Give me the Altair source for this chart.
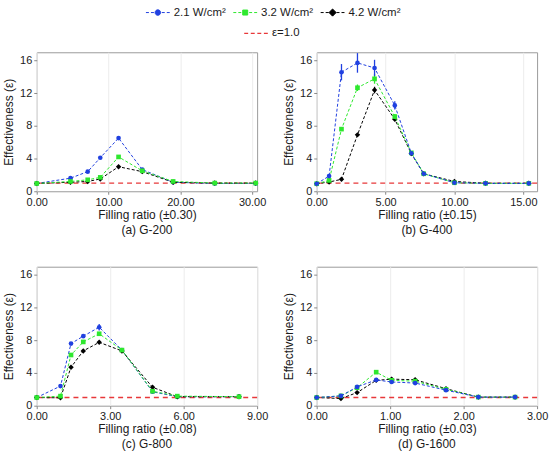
import altair as alt
import pandas as pd

# ---- series definitions ----
SERIES = ["2.1 W/cm²", "3.2 W/cm²", "4.2 W/cm²"]
COLORS = ["#2040e0", "#2ee82e", "#000000"]
EPS_LABEL = "ε=1.0"
EPS_VALUE = [1.0]

# ---- (a) G-200 ----
a_x = [0.0, 4.7, 7.1, 8.85, 11.4, 14.7, 19.0, 24.8, 30.5]
a_blue = [0.95, 1.6, 2.4, 4.1, 6.5, 2.65, 1.1, 0.95, 0.95]
a_green = [0.95, 1.2, 1.4, 1.7, 4.2, 2.5, 1.2, 1.0, 1.0]
a_black = [0.95, 1.1, 1.2, 1.5, 3.0, 2.4, 1.1, 1.0, 1.0]

# ---- (b) G-400 ----
b_x = [0.0, 0.9, 1.8, 2.96, 4.2, 5.67, 6.87, 7.77, 10.0, 12.26, 15.4]
b_blue = [0.92, 1.86, 14.56, 15.7, 15.08, 10.5, 4.65, 2.14, 1.04, 0.97, 0.97]
b_green = [0.92, 1.33, 7.6, 12.66, 13.75, 9.14, 4.7, 2.14, 1.04, 0.97, 0.97]
b_black = [0.92, 1.13, 1.46, 6.9, 12.38, 8.8, 4.6, 2.14, 1.2, 0.97, 0.97]
b_blue_err = [0, 0, 1.0, 1.2, 1.0, 0.5, 0, 0, 0, 0, 0]
b_green_err = [0, 0, 0, 0.4, 0.6, 0.3, 0, 0, 0, 0, 0]
b_black_err = [0, 0, 0, 0, 0.4, 0, 0, 0, 0, 0, 0]

# ---- (c) G-800 ----
c_x = [0.0, 0.97, 1.4, 1.9, 2.55, 3.48, 4.73, 5.74, 8.26]
c_blue = [1.0, 2.4, 7.6, 8.5, 9.6, 6.8, 1.7, 1.1, 1.1]
c_green = [1.0, 1.17, 6.2, 7.8, 8.8, 6.8, 1.77, 1.17, 1.1]
c_black = [1.0, 0.96, 4.7, 6.7, 7.75, 6.7, 2.25, 1.1, 1.1]
c_blue_err = [0, 0, 0, 0, 0.4, 0, 0, 0, 0]

# ---- (d) G-1600 ----
d_x = [0.0, 0.33, 0.55, 0.81, 1.02, 1.34, 1.76, 2.2, 2.7]
d_blue = [1.0, 1.2, 2.3, 3.15, 2.9, 2.77, 1.9, 1.05, 1.05]
d_green = [1.0, 1.2, 2.2, 4.1, 3.1, 3.0, 2.0, 1.05, 1.05]
d_black = [1.0, 0.88, 1.6, 3.1, 3.25, 3.17, 2.08, 1.05, 1.05]

FONT = "Liberation Sans"
TEXT = "#1a1a1a"
PW, PH = 222, 140
Y_TICKS = [0, 4, 8, 12, 16]

color_scale = alt.Scale(domain=SERIES, range=COLORS)
SHAPES = {SERIES[0]: "circle", SERIES[1]: "square", SERIES[2]: "diamond"}
SIZES = {SERIES[0]: 22, SERIES[1]: 22, SERIES[2]: 30}


def series_layers(x, y, err, name, xscale, yscale, xaxis, yaxis):
    if err is None:
        err = [0] * len(x)
    df = pd.DataFrame({"x": x, "y": y, "err": err, "series": name})
    df["lo"] = df["y"] - df["err"]
    df["hi"] = df["y"] + df["err"]
    col = COLORS[SERIES.index(name)]
    base = alt.Chart(df)
    X = alt.X("x:Q", scale=xscale, axis=xaxis)
    Y = alt.Y("y:Q", scale=yscale, axis=yaxis)
    line = base.mark_line(color=col, strokeDash=[3, 2], strokeWidth=1).encode(x=X, y=Y)
    pts = base.mark_point(filled=True, color=col, shape=SHAPES[name],
                          size=SIZES[name], opacity=1).encode(x=X, y=Y)
    layers = [line]
    if any(e > 0 for e in err):
        bars = base.transform_filter("datum.err > 0").mark_rule(
            color=col, strokeWidth=1.3).encode(
            x=X, y=alt.Y("lo:Q", scale=yscale, axis=yaxis), y2="hi:Q")
        layers.append(bars)
    layers.append(pts)
    return layers


def panel(x, series_vals, errs, order, xmax, xticks, xtitle, subtitle):
    xscale = alt.Scale(domain=[0, xmax], nice=False, zero=False)
    yscale = alt.Scale(domain=[0, 17], nice=False)
    xaxis = alt.Axis(values=xticks, format=".2f", title=xtitle, grid=True,
                     gridColor="#ececec", domain=False, tickSize=3,
                     tickColor="#888", labelPadding=2, titlePadding=2,
                     labelFlush=False, labelOverlap=False)
    yaxis = alt.Axis(values=Y_TICKS, title="Effectiveness (ε)", grid=False,
                     domain=False, tickSize=3, tickColor="#888",
                     labelPadding=2, titlePadding=4,
                     labelFlush=False, labelOverlap=False)
    eps = alt.Chart(pd.DataFrame({"eps": EPS_VALUE})).mark_rule(
        color="#e8383a", strokeDash=[5, 4], strokeWidth=1.4).encode(
        y=alt.Y("eps:Q", scale=yscale, axis=yaxis))
    layers = [eps]
    for i in order:
        layers += series_layers(x, series_vals[i], errs[i], SERIES[i],
                                xscale, yscale, xaxis, yaxis)
    return alt.layer(*layers).properties(
        width=PW, height=PH,
        title=alt.TitleParams(subtitle, orient="bottom", fontSize=12,
                              fontWeight="normal", font=FONT, color=TEXT, offset=5),
    )


pa = panel(a_x, [a_blue, a_green, a_black], [None, None, None], [0, 2, 1],
           30.7, [0, 10, 20, 30], "Filling ratio (±0.30)", "(a) G-200")
pb = panel(b_x, [b_blue, b_green, b_black], [b_blue_err, b_green_err, b_black_err],
           [2, 1, 0], 16, [0, 5, 10, 15], "Filling ratio (±0.15)", "(b) G-400")
pc = panel(c_x, [c_blue, c_green, c_black], [c_blue_err, None, None], [0, 2, 1],
           9, [0, 3, 6, 9], "Filling ratio (±0.08)", "(c) G-800")
pd_ = panel(d_x, [d_blue, d_green, d_black], [None, None, None], [2, 1, 0],
            3, [0, 1, 2, 3], "Filling ratio (±0.03)", "(d) G-1600")

grid = alt.concat(pa, pb, pc, pd_, columns=2,
                  spacing={"row": 76, "column": 60}, bounds="flush")

# ---- legend drawn as its own small chart ----
DASH_L = "M-1,0H-0.75M-0.58,0H-0.33"
DASH_R = "M0.33,0H0.58M0.75,0H1"
LEG_PATHS = [
    DASH_L + DASH_R + "M0.23,0A0.23,0.23,0,1,1,-0.23,0A0.23,0.23,0,1,1,0.23,0Z",
    DASH_L + DASH_R + "M-0.21,-0.21H0.21V0.21H-0.21Z",
    DASH_L + DASH_R + "M0,-0.3L0.3,0L0,0.3L-0.3,0Z",
]
EPS_PATH = "M-1,0H-0.67M-0.45,0H-0.12M0.1,0H0.43M0.65,0H0.98"

# legend slots: three series on the first row, the reference line under them
leg_scale = alt.Scale(domain=[0, 2], range=[122, 298])
leg_df = pd.DataFrame({"series": SERIES, "slot": [0, 1, 2]})
leg_x = alt.X("slot:Q", scale=leg_scale, axis=None)
leg_sym = alt.Chart(leg_df).mark_point(filled=True, size=576, strokeWidth=1, opacity=1).encode(
    x=leg_x, y=alt.value(10),
    shape=alt.Shape("series:N", scale=alt.Scale(domain=SERIES, range=LEG_PATHS), legend=None),
    fill=alt.Fill("series:N", scale=color_scale, legend=None),
    stroke=alt.Stroke("series:N", scale=color_scale, legend=None),
)
leg_txt = alt.Chart(leg_df).mark_text(align="left", dx=16, fontSize=11.5, font=FONT,
                                      color=TEXT).encode(x=leg_x, y=alt.value(10), text="series:N")
eps_df = pd.DataFrame({"label": [EPS_LABEL]})
eps_base = alt.Chart(eps_df).transform_calculate(slot="1.125")
eps_sym = eps_base.mark_point(shape=EPS_PATH, size=576, stroke="#e8383a",
                              strokeWidth=1.4, opacity=1).encode(
    x=leg_x, y=alt.value(31))
eps_txt = eps_base.mark_text(align="left", dx=16, fontSize=11.5, font=FONT,
                             color=TEXT).encode(x=leg_x, y=alt.value(31), text="label:N")
legend = alt.layer(leg_sym, leg_txt, eps_sym, eps_txt).properties(
    width=480, height=40, view=alt.ViewBackground(stroke="transparent"))

chart = alt.vconcat(legend, grid, spacing=8).properties(
    padding={"left": 2, "top": 0, "right": 0, "bottom": 0}
).configure(font=FONT).configure_view(stroke="#9a9a9a").configure_axis(
    labelFont=FONT, titleFont=FONT, labelFontSize=11, titleFontSize=12,
    labelColor=TEXT, titleColor=TEXT, titleFontWeight="normal",
)

chart.save("out.html", embed_options={"renderer": "svg", "actions": False})
